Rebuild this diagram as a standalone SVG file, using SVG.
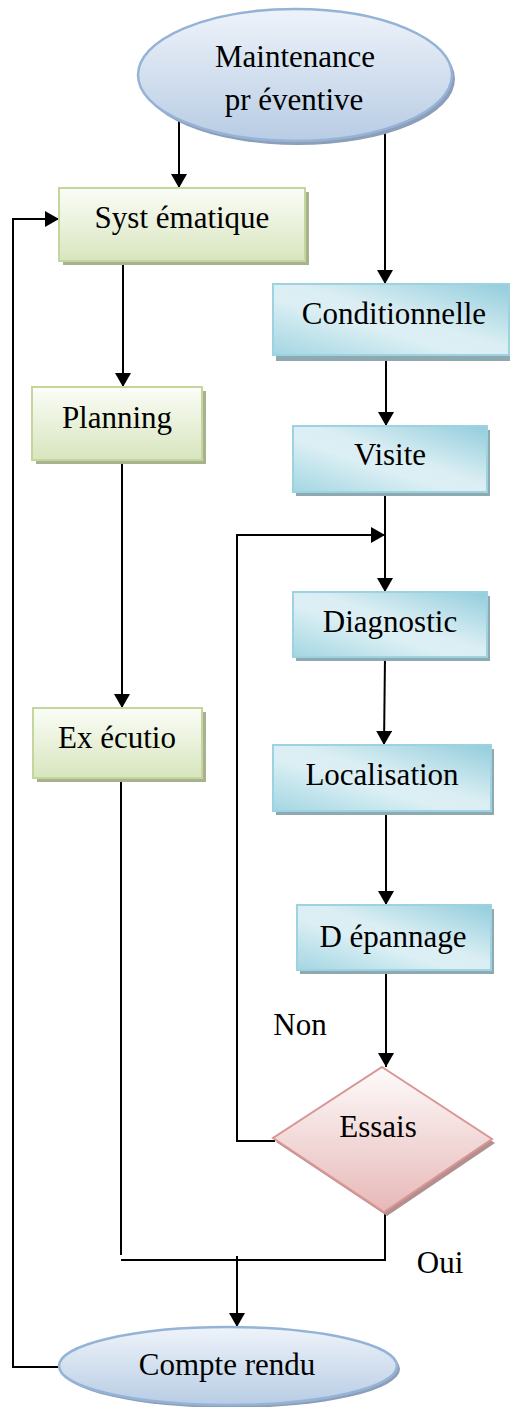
<svg xmlns="http://www.w3.org/2000/svg" width="510" height="1407" viewBox="0 0 510 1407">
  <style>
    .lbl { font-family: "Liberation Serif", "Times New Roman", serif; font-size: 31px; fill: #000; text-anchor: middle; }
    .wire { fill: none; stroke: #000; stroke-width: 2; }
    .green { fill: url(#gGreen); stroke: #c3d69b; stroke-width: 2; }
    .greenShadow { fill: #a9b28f; }
    .blue { fill: url(#gBlue); stroke: #9dd3e0; stroke-width: 2; }
    .blueShadow { fill: #8ea9b0; }
    .oval { fill: url(#gOval); stroke: #95b3d7; stroke-width: 2.5; }
    .ovalShadow { fill: #8d9fb8; }
  </style>
  <defs>
    <linearGradient id="gGreen" x1="0" y1="0" x2="0" y2="1">
      <stop offset="0" stop-color="#fbfdf7"/>
      <stop offset="1" stop-color="#d8e5be"/>
    </linearGradient>
    <linearGradient id="gBlue" x1="1" y1="0" x2="0" y2="1">
      <stop offset="0" stop-color="#92cddc"/>
      <stop offset="0.45" stop-color="#daeef3"/>
      <stop offset="0.6" stop-color="#dbeff4"/>
      <stop offset="1" stop-color="#a3d6e2"/>
    </linearGradient>
    <linearGradient id="gOval" x1="0" y1="0" x2="0" y2="1">
      <stop offset="0" stop-color="#eef3fa"/>
      <stop offset="1" stop-color="#b8cce4"/>
    </linearGradient>
    <linearGradient id="gRose" x1="0" y1="0" x2="0" y2="1">
      <stop offset="0" stop-color="#fefbfb"/>
      <stop offset="1" stop-color="#e6b8b7"/>
    </linearGradient>
    <marker id="ah" markerUnits="userSpaceOnUse" markerWidth="14" markerHeight="16" refX="14" refY="8" orient="auto">
      <path d="M0,0 L14,8 L0,16 z" fill="#000"/>
    </marker>
  </defs>

  <!-- connectors -->
  <g id="connectors">
    <path class="wire" d="M179,120 V188" marker-end="url(#ah)"/>
    <path class="wire" d="M385,120 V284" marker-end="url(#ah)"/>
    <path class="wire" d="M60,1367 H13 V219 H59" marker-end="url(#ah)"/>
    <path class="wire" d="M123,262 V387" marker-end="url(#ah)"/>
    <path class="wire" d="M122,460 V708" marker-end="url(#ah)"/>
    <path class="wire" d="M386,355 V426" marker-end="url(#ah)"/>
    <path class="wire" d="M385,492 V592" marker-end="url(#ah)"/>
    <path class="wire" d="M275,1141 H237 V535 H385" marker-end="url(#ah)"/>
    <path class="wire" d="M385,657 L384,745" marker-end="url(#ah)"/>
    <path class="wire" d="M386,811 V905" marker-end="url(#ah)"/>
    <path class="wire" d="M386,970 V1067" marker-end="url(#ah)"/>
    <path class="wire" d="M121,778 V1255"/>
    <path class="wire" d="M121,1260 H385 V1210"/>
    <path class="wire" d="M237,1256 V1327" marker-end="url(#ah)"/>
  </g>

  <g id="maintenance-preventive">
    <ellipse class="ovalShadow" cx="298" cy="79" rx="157" ry="66"/>
    <ellipse class="oval" cx="295" cy="75" rx="157" ry="66"/>
    <text class="lbl" x="295" y="67">Maintenance</text>
    <text class="lbl" x="294" y="110">pr éventive</text>
  </g>

  <g id="systematique">
    <rect class="greenShadow" x="63" y="192" width="246" height="73"/>
    <rect class="green" x="59" y="188" width="246" height="73"/>
    <text class="lbl" x="182" y="228">Syst ématique</text>
  </g>

  <g id="planning">
    <rect class="greenShadow" x="36" y="391" width="170" height="73"/>
    <rect class="green" x="32" y="387" width="170" height="73"/>
    <text class="lbl" x="117" y="428">Planning</text>
  </g>

  <g id="execution">
    <rect class="greenShadow" x="37" y="712" width="169" height="70"/>
    <rect class="green" x="33" y="708" width="169" height="70"/>
    <text class="lbl" x="117" y="748">Ex écutio</text>
  </g>

  <g id="conditionnelle">
    <rect class="blueShadow" x="276" y="288" width="236" height="73"/>
    <rect class="blue" x="273" y="284" width="236" height="71"/>
    <text class="lbl" x="394" y="324">Conditionnelle</text>
  </g>

  <g id="visite">
    <rect class="blueShadow" x="296" y="430" width="194" height="66"/>
    <rect class="blue" x="293" y="426" width="194" height="66"/>
    <text class="lbl" x="390" y="465">Visite</text>
  </g>

  <g id="diagnostic">
    <rect class="blueShadow" x="296" y="596" width="194" height="65"/>
    <rect class="blue" x="293" y="592" width="194" height="65"/>
    <text class="lbl" x="390" y="632">Diagnostic</text>
  </g>

  <g id="localisation">
    <rect class="blueShadow" x="276" y="749" width="218" height="66"/>
    <rect class="blue" x="273" y="745" width="218" height="66"/>
    <text class="lbl" x="382" y="785">Localisation</text>
  </g>

  <g id="depannage">
    <rect class="blueShadow" x="300" y="909" width="194" height="65"/>
    <rect class="blue" x="297" y="905" width="194" height="65"/>
    <text class="lbl" x="393" y="947">D épannage</text>
  </g>

  <g id="essais">
    <polygon points="385,1071 495,1143 387,1216 276,1142" fill="#b38f8f"/>
    <polygon points="382,1067 492,1139 384,1212 273,1138" fill="url(#gRose)" stroke="#d99694" stroke-width="2"/>
    <text class="lbl" x="378" y="1137">Essais</text>
  </g>

  <g id="labels">
    <text class="lbl" x="300" y="1035">Non</text>
    <text class="lbl" x="440" y="1273">Oui</text>
  </g>

  <g id="compte-rendu">
    <ellipse class="ovalShadow" cx="231" cy="1369" rx="169" ry="39"/>
    <ellipse class="oval" cx="228" cy="1366" rx="169" ry="39"/>
    <text class="lbl" x="227" y="1375">Compte rendu</text>
  </g>
</svg>
